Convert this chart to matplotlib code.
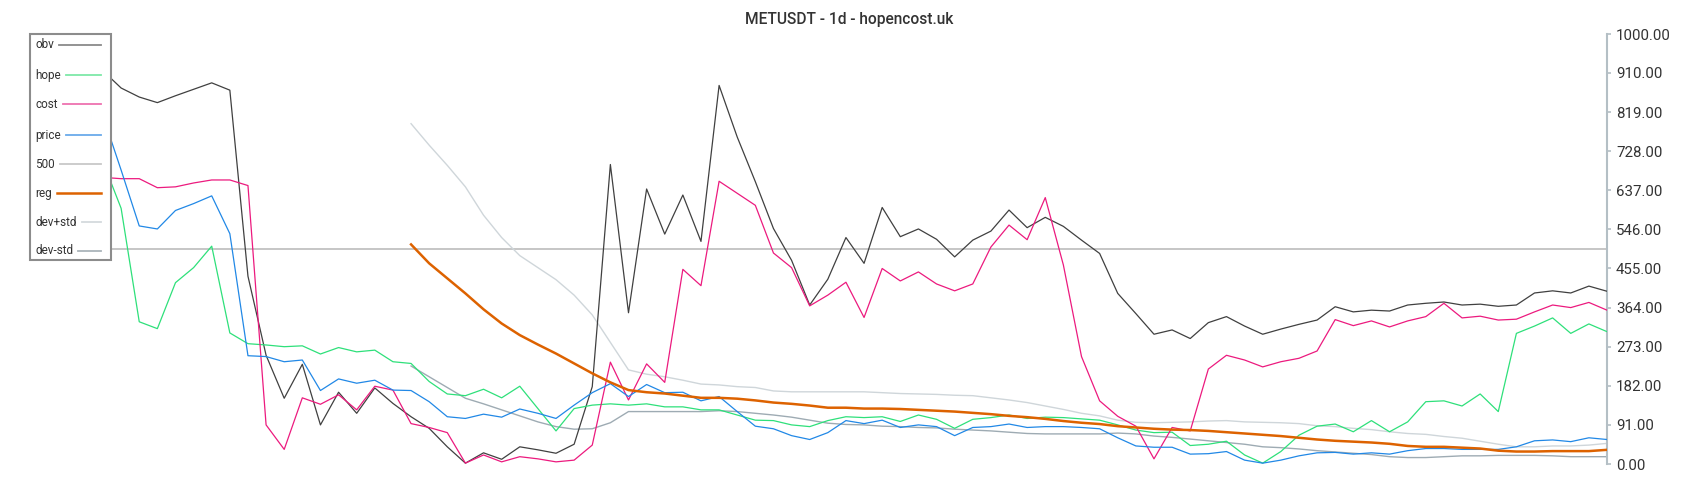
import matplotlib.pyplot as plt
from matplotlib.lines import Line2D
from matplotlib.patches import Rectangle
import numpy as np

plt.rcParams['font.family'] = ['Roboto', 'DejaVu Sans']

title = 'METUSDT - 1d - hopencost.uk'

obv = [915, 875, 854, 841, 857, 872, 887, 870, 437, 253, 153, 232, 91, 167, 118, 177,
       141, 110, 83, 40, 2, 26, 11, 40, 33, 25, 46, 180, 697, 352, 640, 535,
       626, 518, 881, 761, 657, 548, 474, 370, 430, 527, 467, 597, 529, 547, 523, 482,
       521, 542, 591, 550, 574, 553, 521, 490, 397, 350, 302, 312, 292, 329, 343, 321,
       302, 314, 325, 335, 366, 354, 358, 356, 370, 374, 377, 370, 372, 367, 370, 398,
       403, 398, 414, 402]
hope = [703, 595, 331, 315, 422, 457, 507, 305, 280, 277, 273, 275, 256, 271, 261, 265,
        238, 234, 192, 163, 159, 174, 154, 181, 129, 77, 129, 137, 140, 137, 140, 133,
        133, 126, 126, 114, 102, 101, 91, 87, 101, 110, 108, 110, 99, 114, 104, 83,
        104, 108, 114, 106, 109, 108, 105, 102, 91, 79, 73, 74, 43, 46, 53, 21,
        2, 29, 67, 88, 93, 75, 101, 75, 98, 145, 147, 135, 163, 122, 304, 321,
        340, 304, 326, 308]
cost = [667, 664, 664, 643, 645, 654, 661, 661, 648, 91, 34, 154, 139, 161, 126, 181,
        172, 94, 85, 73, 2, 21, 5, 17, 12, 5, 9, 44, 237, 149, 233, 190,
        453, 415, 658, 630, 602, 491, 457, 368, 393, 423, 341, 455, 426, 447, 419, 403,
        419, 505, 556, 522, 620, 463, 250, 147, 111, 88, 12, 85, 77, 221, 253, 242,
        226, 238, 246, 263, 336, 322, 333, 319, 333, 343, 374, 340, 344, 335, 337, 354,
        370, 364, 376, 358]
price = [810, 684, 554, 547, 590, 606, 624, 536, 252, 250, 238, 242, 171, 198, 188, 195,
         172, 171, 145, 110, 106, 116, 109, 128, 118, 106, 137, 166, 187, 157, 185, 166,
         167, 147, 157, 122, 88, 82, 66, 57, 73, 101, 94, 102, 85, 91, 87, 66,
         85, 87, 93, 85, 87, 87, 85, 82, 61, 42, 39, 39, 23, 24, 29, 9,
         2, 9, 19, 26, 27, 23, 26, 23, 31, 36, 36, 34, 34, 34, 40, 54,
         56, 52, 61, 57]

# regression and bands start later
reg_start = 17
reg = [511, 467, 432, 397, 360, 327, 300, 278, 257, 234, 211, 190, 172, 167, 164, 159,
       154, 154, 152, 148, 143, 140, 136, 131, 131, 129, 129, 128, 126, 124, 122, 119,
       116, 112, 109, 105, 100, 96, 93, 88, 85, 82, 80, 79, 77, 74, 71, 68,
       65, 61, 57, 54, 52, 50, 47, 42, 40, 40, 38, 36, 31, 29, 29, 30,
       30, 30, 33]
dev_plus = [792, 742, 695, 645, 579, 527, 485, 457, 429, 393, 347, 283, 219, 209, 203, 195,
            186, 184, 180, 178, 170, 168, 168, 168, 168, 168, 166, 164, 163, 162, 160, 159,
            154, 149, 143, 135, 127, 118, 112, 102, 97, 96, 97, 98, 100, 101, 98, 97,
            96, 94, 89, 87, 83, 80, 75, 71, 69, 64, 60, 53, 46, 40, 40, 42,
            42, 44, 48]
dev_minus = [228, 203, 178, 153, 140, 126, 112, 98, 87, 81, 82, 96, 122, 122, 122, 122,
             122, 124, 122, 118, 114, 109, 102, 95, 92, 91, 88, 87, 85, 84, 81, 79,
             77, 74, 71, 70, 70, 70, 70, 72, 70, 65, 62, 58, 54, 50, 46, 40,
             38, 35, 31, 28, 25, 22, 17, 15, 15, 17, 19, 19, 20, 20, 20, 19,
             17, 17, 17]
level = 500

yticks = [0, 91, 182, 273, 364, 455, 546, 637, 728, 819, 910, 1000]

c_obv = '#404040'
c_hope = '#2ee07a'
c_cost = '#ec1a7e'
c_price = '#2188e6'
c_500 = '#c6c6c6'
c_reg = '#dd6200'
c_devp = '#cfd6da'
c_devm = '#9eabb3'

W, H = 1700, 500
fig = plt.figure(figsize=(17, 5), dpi=100)
ax = fig.add_axes([103 / W, 1 - 464 / H, (1607 - 103) / W, (464 - 34.3) / H])

x = np.arange(len(obv))
xr = np.arange(reg_start, reg_start + len(reg))

ax.plot([x[0], x[-1]], [level, level], color=c_500, lw=1.4, zorder=1)
ax.plot(xr, dev_plus, color=c_devp, lw=1.0, zorder=2)
ax.plot(xr, dev_minus, color=c_devm, lw=1.0, zorder=2)
ax.plot(x, obv, color=c_obv, lw=0.9, zorder=3)
ax.plot(x, hope, color=c_hope, lw=0.9, zorder=3)
ax.plot(x, cost, color=c_cost, lw=0.9, zorder=3)
ax.plot(x, price, color=c_price, lw=0.9, zorder=3)
ax.plot(xr, reg, color=c_reg, lw=1.8, zorder=4)

ax.set_xlim(0, len(obv) - 1)
ax.set_ylim(0, 1000)
for s in ['left', 'top', 'bottom']:
    ax.spines[s].set_visible(False)
ax.spines['right'].set_color('#b4bfc5')
ax.spines['right'].set_linewidth(1.5)
ax.set_xticks([])
ax.yaxis.tick_right()
ax.set_yticks(yticks)
ax.set_yticklabels(['%.2f' % v for v in yticks])
ax.tick_params(axis='y', direction='out', length=3, width=1.2, color='#b4bfc5',
               labelcolor='#333333', labelsize=10.8, pad=3.5)

fig.text(849 / W, 1 - 19.5 / H, title, ha='center', va='center', fontsize=11.2,
         color='#333333', fontweight='medium')

# legend box drawn by hand: label left, line on the right
leg_labels = ['obv', 'hope', 'cost', 'price', '500', 'reg', 'dev+std', 'dev-std']
leg_colors = ['#8a8a8a', '#7ee8a8', '#ee72b0', '#6aaaea', '#c8c8c8', '#dd6200', '#d4dadd', '#aab4ba']
leg_widths = [1.3, 1.3, 1.3, 1.3, 1.3, 1.8, 1.3, 1.3]
leg_y = [45, 75, 104, 135, 164, 193, 222, 251]

box = Rectangle((30 / W, 1 - 260 / H), 81 / W, 226 / H, transform=fig.transFigure,
                facecolor='white', edgecolor='#8c8c8c', lw=1.5, zorder=10)
fig.add_artist(box)

fig.canvas.draw()
r = fig.canvas.get_renderer()
for lab, col, lw, yy in zip(leg_labels, leg_colors, leg_widths, leg_y):
    t = fig.text(35 / W, 1 - yy / H, lab, ha='left', va='center', fontsize=8.5,
                 color='#333333', zorder=11)
    bb = t.get_window_extent(renderer=r)
    x0 = (bb.x1 + 5) / W
    fig.add_artist(Line2D([x0, 101 / W], [1 - yy / H, 1 - yy / H], color=col, lw=lw,
                          transform=fig.transFigure, zorder=11))

fig.savefig('out.png', dpi=100)
